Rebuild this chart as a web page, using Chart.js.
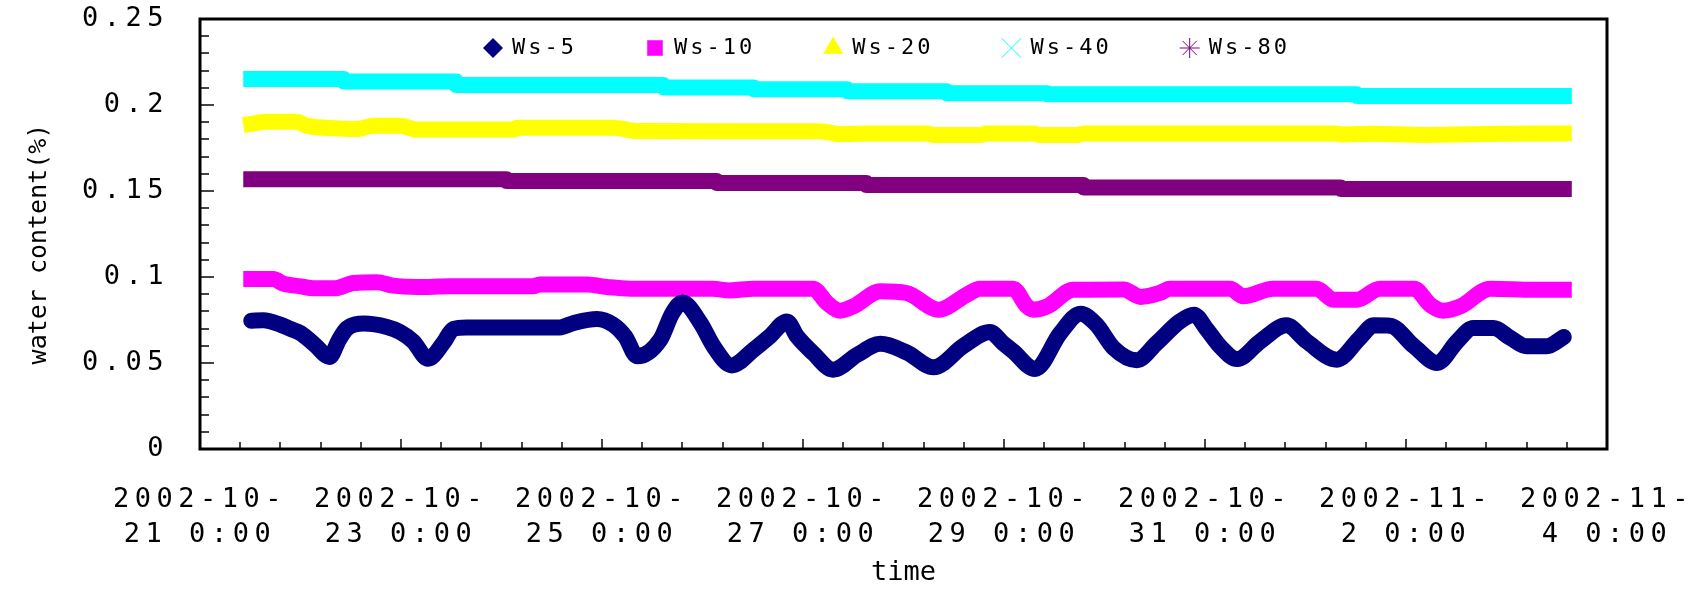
<!DOCTYPE html>
<html>
<head>
<meta charset="utf-8">
<script src="https://cdn.jsdelivr.net/npm/chart.js@4.4.0/dist/chart.umd.min.js"></script>
<style>
  html, body { margin: 0; padding: 0; background: #fff; }
  canvas { display: block; }
</style>
</head>
<body>
<canvas id="chart" width="1698" height="589"></canvas>
<script>
// x is in days after 2002-10-21 0:00
const xTickLabels = [
  ["2002-10-", "21 0:00"],
  ["2002-10-", "23 0:00"],
  ["2002-10-", "25 0:00"],
  ["2002-10-", "27 0:00"],
  ["2002-10-", "29 0:00"],
  ["2002-10-", "31 0:00"],
  ["2002-11-", "2 0:00"],
  ["2002-11-", "4 0:00"]
];
const seriesNames = ["Ws-5", "Ws-10", "Ws-20", "Ws-40", "Ws-80"];

const ws5Days = [0.51, 0.63, 0.80, 0.90, 1.00, 1.14, 1.29, 1.38, 1.46, 1.63, 1.86, 1.99, 2.12, 2.27, 2.42, 2.52,
  2.65, 3.58, 3.72, 3.95, 4.11, 4.23, 4.35, 4.58, 4.70, 4.80, 4.98, 5.11, 5.29, 5.51, 5.67, 5.84, 5.94, 6.10,
  6.30, 6.54, 6.77, 7.03, 7.30, 7.60, 7.86, 7.99, 8.09, 8.31, 8.56, 8.76, 8.92, 9.09, 9.32, 9.52, 9.75, 9.89,
  10.02, 10.15, 10.32, 10.55, 10.81, 11.01, 11.31, 11.54, 11.68, 11.84, 12.08, 12.31, 12.51, 12.67, 12.87,
  13.04, 13.20, 13.40, 13.57];
const ws5Values = [0.0746, 0.0748, 0.0723, 0.0698, 0.0674, 0.0607, 0.0535, 0.0632, 0.0700, 0.0729, 0.0709,
  0.0680, 0.0626, 0.0525, 0.0616, 0.0698, 0.0707, 0.0707, 0.0733, 0.0756, 0.0723, 0.0655, 0.0539, 0.0636,
  0.0790, 0.0852, 0.0733, 0.0597, 0.0486, 0.0578, 0.0655, 0.0742, 0.0655, 0.0558, 0.0461, 0.0548, 0.0612,
  0.0562, 0.0475, 0.0601, 0.0680, 0.0616, 0.0568, 0.0465, 0.0674, 0.0787, 0.0723, 0.0587, 0.0516, 0.0616,
  0.0742, 0.0781, 0.0694, 0.0597, 0.0523, 0.0626, 0.0719, 0.0626, 0.0519, 0.0645, 0.0719, 0.0717, 0.0597,
  0.0500, 0.0626, 0.0703, 0.0703, 0.0645, 0.0597, 0.0597, 0.0651];

const ws10Days = [0.51, 0.73, 0.83, 1.00, 1.13, 1.33, 1.53, 1.76, 1.92, 2.16, 2.49, 3.32, 3.38, 3.85, 4.05,
  4.28, 5.10, 5.27, 5.51, 6.10, 6.24, 6.37, 6.50, 6.77, 7.03, 7.35, 7.63, 7.76, 8.09, 8.23, 8.29, 8.43, 8.69,
  9.19, 9.36, 9.55, 9.65, 10.25, 10.38, 10.68, 11.11, 11.28, 11.51, 11.74, 12.08, 12.24, 12.37, 12.54, 12.84,
  13.27, 13.57];
const ws10Values = [0.0988, 0.0988, 0.0961, 0.0946, 0.0934, 0.0934, 0.0965, 0.0969, 0.0950, 0.0942, 0.0946,
  0.0946, 0.0957, 0.0957, 0.0942, 0.0932, 0.0932, 0.0922, 0.0932, 0.0932, 0.0849, 0.0804, 0.0829, 0.0917,
  0.0907, 0.0810, 0.0897, 0.0932, 0.0932, 0.0829, 0.0810, 0.0829, 0.0926, 0.0928, 0.0884, 0.0907, 0.0932,
  0.0932, 0.0888, 0.0932, 0.0932, 0.0868, 0.0868, 0.0932, 0.0932, 0.0839, 0.0804, 0.0829, 0.0932, 0.0926,
  0.0926];

const ws20Days = [0.51, 0.66, 0.96, 1.06, 1.39, 1.56, 1.73, 1.99, 2.16, 3.12, 3.15, 4.11, 4.35, 6.17, 6.37,
  6.64, 7.23, 7.30, 7.76, 7.83, 8.29, 8.36, 8.73, 8.79, 11.30, 11.35, 11.68, 12.18, 12.94, 13.57];
const ws20Values = [0.1890, 0.1903, 0.1903, 0.1880, 0.1864, 0.1860, 0.1880, 0.1880, 0.1857, 0.1857, 0.1868,
  0.1868, 0.1849, 0.1847, 0.1831, 0.1835, 0.1835, 0.1825, 0.1825, 0.1835, 0.1835, 0.1825, 0.1825, 0.1835,
  0.1835, 0.1829, 0.1833, 0.1826, 0.1833, 0.1835];

const ws40Days = [0.51, 1.43, 2.55, 4.61, 5.51, 6.44, 7.43, 8.43, 11.51, 13.57];
const ws40Values = [0.2151, 0.2136, 0.2116, 0.2102, 0.2091, 0.2080, 0.2068, 0.2062, 0.2052, 0.2052];

const ws80Days = [0.51, 3.05, 5.14, 6.63, 8.79, 11.35, 13.57];
const ws80Values = [0.1568, 0.1558, 0.1547, 0.1535, 0.1521, 0.1512, 0.1512];

const colors = ["#000080", "#ff00ff", "#ffff00", "#00ffff", "#800080"];
const markers = ["rectRot", "rect", "triangle", "crossRot", "star"];
const markerSizes = [10, 11, 11.5, 14, 10];

function toPoints(days, values) {
  return days.map((d, i) => ({ x: d, y: values[i] }));
}

function yLabel(v) {
  const n = Math.round(v * 100);
  if (n === 0) return "0";
  return "0." + String(n).padStart(2, "0").replace(/0$/, "");
}

Chart.defaults.font.family = "'DejaVu Sans Mono', monospace";
Chart.defaults.color = "#000";

// inward tick marks, plot frame, y title and legend
const decor = {
  id: "decor",
  beforeDraw(chart) {
    chart.ctx.letterSpacing = "0px";
  },
  afterDatasetsDraw(chart) {
    const ctx = chart.ctx;
    const a = chart.chartArea;
    const x = chart.scales.x, y = chart.scales.y;
    ctx.save();
    ctx.strokeStyle = "#444";
    ctx.lineWidth = 2;
    ctx.beginPath();
    for (let i = 1; i < 25; i++) {
      const py = Math.round(y.getPixelForValue(i / 100));
      const len = i % 5 === 0 ? 14 : 9;
      ctx.moveTo(a.left, py);
      ctx.lineTo(a.left + len, py);
    }
    for (let i = 1; i < 35; i++) {
      const px = Math.round(x.getPixelForValue(i * 0.4));
      const len = i % 5 === 0 ? 10 : 7;
      ctx.moveTo(px, a.bottom);
      ctx.lineTo(px, a.bottom - len);
    }
    ctx.stroke();
    ctx.strokeStyle = "#000";
    ctx.lineWidth = 3;
    ctx.strokeRect(a.left, a.top, a.right - a.left, a.bottom - a.top);
    ctx.restore();
    // tick labels (z: 1) get drawn after this
    ctx.letterSpacing = "5.5px";
  },
  afterDraw(chart) {
    const ctx = chart.ctx;
    ctx.save();
    // y axis title
    ctx.letterSpacing = "0px";
    ctx.fillStyle = "#000";
    ctx.font = "25px 'DejaVu Sans Mono'";
    ctx.textAlign = "center";
    ctx.textBaseline = "middle";
    ctx.translate(39, 244);
    ctx.rotate(-Math.PI / 2);
    ctx.fillText("water content(%)", 0, 0);
    ctx.restore();

    // legend
    ctx.save();
    ctx.letterSpacing = "3px";
    ctx.font = "22px 'DejaVu Sans Mono'";
    ctx.textAlign = "left";
    ctx.textBaseline = "middle";
    let lx = 483;
    const ly = 48;
    chart.data.datasets.forEach((ds, i) => {
      ctx.fillStyle = colors[i];
      ctx.strokeStyle = colors[i];
      const cross = markers[i] === "crossRot" || markers[i] === "star";
      if (Chart.helpers && Chart.helpers.drawPoint) {
        Chart.helpers.drawPoint(ctx, {
          pointStyle: markers[i], rotation: 0,
          radius: markerSizes[i], borderWidth: cross ? 2.5 : 0
        }, lx + 10, ly);
      }
      ctx.fillStyle = "#000";
      ctx.fillText(ds.label, lx + 29, ly);
      lx += 29 + ctx.measureText(ds.label).width + 68;
    });
    ctx.restore();
  }
};

const seriesData = [
  toPoints(ws5Days, ws5Values),
  toPoints(ws10Days, ws10Values),
  toPoints(ws20Days, ws20Values),
  toPoints(ws40Days, ws40Values),
  toPoints(ws80Days, ws80Values)
];

const chart = new Chart(document.getElementById("chart"), {
  type: "line",
  data: {
    datasets: seriesNames.map((name, i) => ({
      label: name,
      data: seriesData[i],
      borderColor: colors[i],
      backgroundColor: colors[i],
      pointStyle: markers[i],
      borderWidth: 16,
      borderCapStyle: i === 0 ? "round" : "square",
      borderJoinStyle: "round",
      stepped: i >= 3 ? "before" : false,
      tension: 0,
      cubicInterpolationMode: i < 3 ? "monotone" : "default"
    }))
  },
  options: {
    responsive: false,
    animation: false,
    layout: { padding: { top: 19, right: 91, left: 0, bottom: 0 } },
    elements: { point: { radius: 0 } },
    plugins: { legend: { display: false }, tooltip: { enabled: false } },
    scales: {
      x: {
        type: "linear",
        min: 0,
        max: 14,
        afterFit(s) {
          s.height = 140;
          s.paddingLeft = 0;
          s.paddingRight = 0;
        },
        grid: { display: false, drawTicks: false },
        border: { display: false },
        ticks: {
          z: 1,
          stepSize: 2,
          autoSkip: false,
          maxRotation: 0,
          padding: 33,
          font: { size: 27, lineHeight: 1.3 },
          callback: (v) => xTickLabels[Math.round(v / 2)]
        },
        title: { display: true, text: "time", font: { size: 27 }, padding: { top: 0, bottom: 0 } }
      },
      y: {
        min: 0,
        max: 0.25,
        afterFit(s) {
          s.width = 200;
          s.paddingTop = 0;
          s.paddingBottom = 0;
        },
        grid: { display: false, drawTicks: false },
        border: { display: false },
        ticks: {
          z: 1,
          stepSize: 0.05,
          padding: 31,
          font: { size: 27 },
          callback: (v) => yLabel(v)
        }
      }
    }
  },
  plugins: [decor]
});
</script>
</body>
</html>
